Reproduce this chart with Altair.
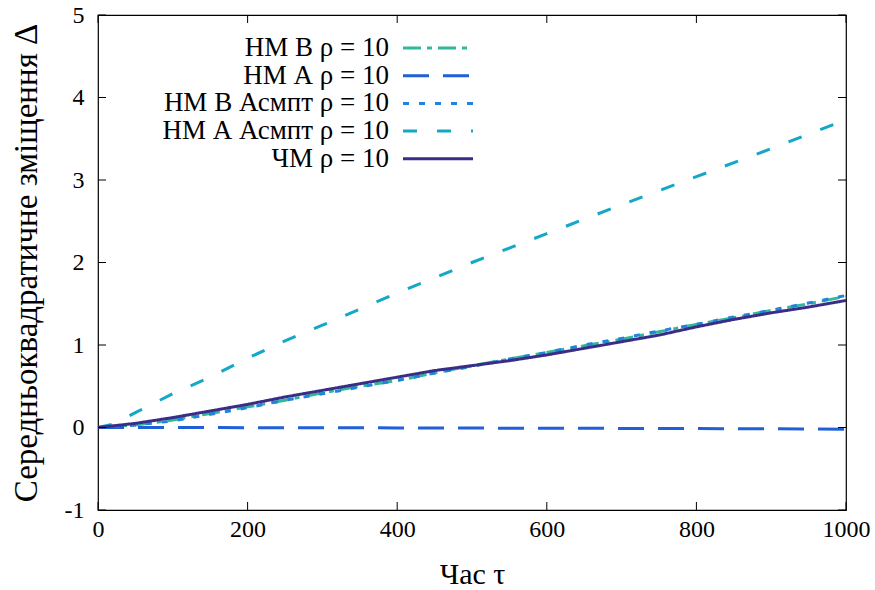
import altair as alt
import pandas as pd

# ---- data ----
series_names = ["НМ В ρ = 10", "НМ А ρ = 10", "НМ В Асмпт ρ = 10",
                "НМ А Асмпт ρ = 10", "ЧМ ρ = 10"]
series_colors = ["#2fb89c", "#1f5fd8", "#2283dc", "#14a8c8", "#3b2d87"]
series_dashes = [[18, 6, 5, 6], [26, 14], [6, 10], [14, 20], [1, 0]]

tau = [0, 50, 100, 150, 200, 250, 300, 350, 400, 450, 500,
       550, 600, 650, 700, 750, 800, 850, 900, 950, 1000]
nm_b = [0.0, 0.03, 0.09, 0.17, 0.25, 0.33, 0.42, 0.50, 0.57, 0.66, 0.75,
        0.83, 0.91, 0.99, 1.07, 1.16, 1.25, 1.33, 1.42, 1.50, 1.59]
nm_a = [0.0, 0.0, 0.0, -0.001, -0.002, -0.002, -0.003, -0.004, -0.005, -0.006, -0.007,
        -0.008, -0.009, -0.010, -0.011, -0.012, -0.013, -0.015, -0.016, -0.018, -0.02]
nm_b_as = [0.0, 0.03, 0.08, 0.16, 0.24, 0.33, 0.41, 0.49, 0.57, 0.66, 0.74,
           0.83, 0.91, 1.00, 1.08, 1.17, 1.25, 1.34, 1.42, 1.51, 1.60]
chm = [0.0, 0.05, 0.12, 0.20, 0.28, 0.37, 0.45, 0.53, 0.61, 0.69, 0.75,
       0.81, 0.88, 0.96, 1.04, 1.12, 1.22, 1.31, 1.39, 1.46, 1.54]
nm_a_as_tau = [0, 20, 50, 100, 150, 200, 250, 300, 400, 500, 600, 700, 800, 900, 1000]
nm_a_as = [0.0, 0.04, 0.18, 0.41, 0.61, 0.84, 1.05, 1.24, 1.63, 2.00, 2.35, 2.70, 3.04, 3.38, 3.73]

x_ticks = [0, 200, 400, 600, 800, 1000]
y_ticks = [-1, 0, 1, 2, 3, 4, 5]

rows = []
for name, xs, ys, order in [
    (series_names[0], tau, nm_b, 0),
    (series_names[1], tau, nm_a, 1),
    (series_names[2], tau, nm_b_as, 2),
    (series_names[3], nm_a_as_tau, nm_a_as, 3),
    (series_names[4], tau, chm, 4),
]:
    for x, y in zip(xs, ys):
        rows.append({"tau": x, "delta": y, "series": name, "order": order})
df = pd.DataFrame(rows)

FONT = "Liberation Serif, Tinos, Times New Roman, DejaVu Serif, serif"
W, H = 748, 495
TL = 8
LW = 3

x_scale = alt.Scale(domain=[0, 1000], nice=False, zero=False)
y_scale = alt.Scale(domain=[-1, 5], nice=False, zero=False)
x_axis = alt.Axis(values=x_ticks, title="Час τ", labelExpr="'' + datum.value",
                  labelPadding=7, titlePadding=18, titleFontSize=30, labelFlush=False,
                  grid=False, ticks=False, domain=False)
y_axis = alt.Axis(values=y_ticks, title="Середньоквадратичне зміщення Δ",
                  labelExpr="'' + datum.value", labelPadding=14, titleFontSize=33,
                  titlePadding=21, labelFlush=False, grid=False, ticks=False, domain=False)

lines = alt.Chart(df).mark_line(strokeWidth=LW).encode(
    x=alt.X("tau:Q", scale=x_scale, axis=x_axis),
    y=alt.Y("delta:Q", scale=y_scale, axis=y_axis),
    color=alt.Color("series:N", scale=alt.Scale(domain=series_names, range=series_colors),
                    legend=None),
    strokeDash=alt.StrokeDash("series:N",
                              scale=alt.Scale(domain=series_names, range=series_dashes),
                              legend=None),
    order=alt.Order("order:Q"),
    detail="series:N",
)

xt = pd.DataFrame({"t": x_ticks})
yt = pd.DataFrame({"t": y_ticks})
xs_t = alt.X("t:Q", scale=x_scale, axis=x_axis)
ys_t = alt.Y("t:Q", scale=y_scale, axis=y_axis)

tick_bottom = alt.Chart(xt).mark_rule(color="black", strokeWidth=1).encode(
    x=xs_t, y=alt.value(H), y2=alt.value(H - TL))
tick_top = alt.Chart(xt).mark_rule(color="black", strokeWidth=1).encode(
    x=xs_t, y=alt.value(0), y2=alt.value(TL))
tick_left = alt.Chart(yt).mark_rule(color="black", strokeWidth=1).encode(
    y=ys_t, x=alt.value(0), x2=alt.value(TL))
tick_right = alt.Chart(yt).mark_rule(color="black", strokeWidth=1).encode(
    y=ys_t, x=alt.value(W), x2=alt.value(W - TL))

# ---- manual legend (gnuplot style: text right-aligned, sample on the right) ----
leg_df = pd.DataFrame({"series": series_names})
LEG_TEXT_X, LEG_SYM_X0, LEG_SYM_X1 = 291, 305, 375
LEG_Y0, LEG_DY = 33, 27.7
legend_layers = []
for i, name in enumerate(series_names):
    yy = LEG_Y0 + LEG_DY * i
    base = alt.Chart(leg_df).transform_filter(alt.datum.series == name)
    legend_layers.append(base.mark_text(
        align="right", baseline="middle", font=FONT, fontSize=27, color="black"
    ).encode(text="series:N", x=alt.value(LEG_TEXT_X), y=alt.value(yy)))
    legend_layers.append(base.mark_rule(
        color=series_colors[i], strokeWidth=LW, strokeDash=series_dashes[i]
    ).encode(x=alt.value(LEG_SYM_X0), x2=alt.value(LEG_SYM_X1), y=alt.value(yy)))

chart = alt.layer(lines, tick_bottom, tick_top, tick_left, tick_right,
                  *legend_layers).properties(
    width=W, height=H,
    padding={"left": 98, "right": 29, "top": 15, "bottom": 80},
    autosize=alt.AutoSizeParams(type="none"),
    background="white",
).configure_view(
    stroke="black", strokeWidth=1.2
).configure_axis(
    labelFont=FONT, labelFontSize=24, labelColor="black",
    titleFont=FONT, titleColor="black", titleFontWeight="normal",
)

chart.save("out.html", embed_options={"renderer": "svg", "actions": False})
